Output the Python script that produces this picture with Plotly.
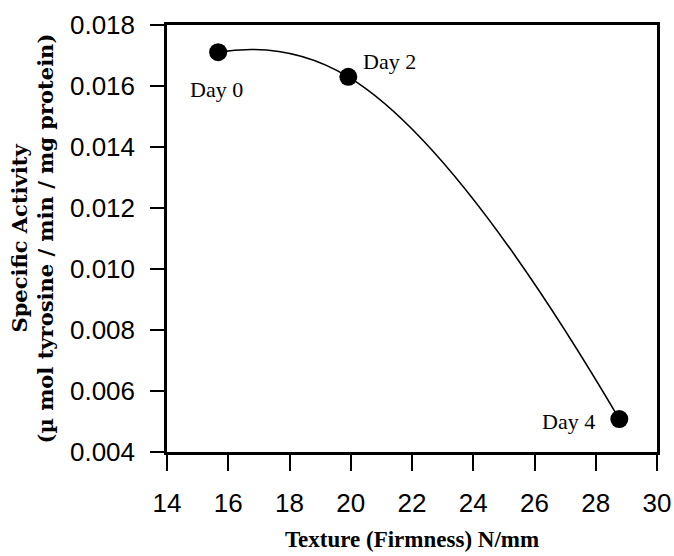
import plotly.graph_objects as go

firmness = [15.67, 19.92, 28.77]
activity = [0.01711, 0.01630, 0.00508]
day_labels = ["Day 0", "Day 2", "Day 4"]
label_shift_x = [-2, 41, -51]
label_shift_y = [-37, 15, -2]

x_ticks = [14, 16, 18, 20, 22, 24, 26, 28, 30]
y_ticks = [0.004, 0.006, 0.008, 0.010, 0.012, 0.014, 0.016, 0.018]

tick_font = dict(family="Liberation Sans Narrow, Arial Narrow, Liberation Sans, Arial", size=26, color="black")
serif = "Liberation Serif, Times New Roman, serif"

fig = go.Figure()
fig.add_trace(go.Scatter(
    x=firmness, y=activity, mode="lines+markers",
    line=dict(color="black", width=1.6, shape="spline", smoothing=1.3),
    marker=dict(color="black", size=18),
    showlegend=False, cliponaxis=False,
))

for x, y, t, dx, dy in zip(firmness, activity, day_labels, label_shift_x, label_shift_y):
    fig.add_annotation(x=x, y=y, text=t, showarrow=False, xshift=dx, yshift=dy,
                       font=dict(family=serif, size=22, color="black"))

fig.add_annotation(xref="paper", yref="paper", x=-0.302, y=0.5, xanchor="center", yanchor="middle",
                   text="<b>Specific Activity</b>", textangle=-90, showarrow=False,
                   font=dict(family="DejaVu Serif", size=21, color="black"))
fig.add_annotation(xref="paper", yref="paper", x=-0.247, y=0.5, xanchor="center", yanchor="middle",
                   text="<b>(µ mol tyrosine / min / mg protein)</b>", textangle=-90, showarrow=False,
                   font=dict(family="DejaVu Serif", size=21, color="black"))

fig.update_layout(
    width=674, height=556,
    margin=dict(l=167, r=17, t=25, b=104),
    plot_bgcolor="white", paper_bgcolor="white",
    xaxis=dict(range=[14, 30], tickvals=x_ticks, ticktext=[str(v) for v in x_ticks],
               showgrid=False, zeroline=False, showline=True, linecolor="black", linewidth=2.5,
               mirror=True, ticks="outside", ticklen=16, tickwidth=2, tickcolor="black",
               tickfont=tick_font, ticklabelstandoff=10, automargin=False,
               title=dict(text="<b>Texture (Firmness) N/mm</b>", font=dict(family=serif, size=23, color="black"),
                          standoff=14)),
    yaxis=dict(range=[0.004, 0.018], tickvals=y_ticks, ticktext=[f"{v:.3f}" for v in y_ticks],
               showgrid=False, zeroline=False, showline=True, linecolor="black", linewidth=2.5,
               mirror=True, ticks="outside", ticklen=14, tickwidth=2, tickcolor="black",
               tickfont=tick_font, ticklabelstandoff=10, automargin=False),
)

fig.write_html("out.html")
